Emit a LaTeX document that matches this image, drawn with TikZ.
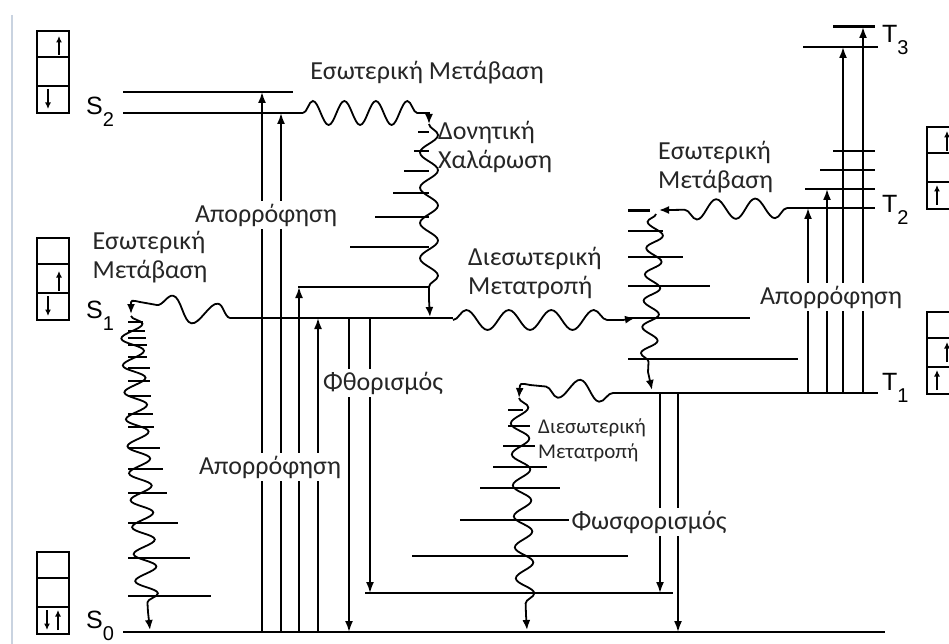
\documentclass[tikz,border=0pt]{standalone}
\usepackage{fontspec}
\setmainfont{Carlito}
\newfontfamily\statefont{Liberation Sans}
\usetikzlibrary{arrows.meta,decorations.pathmorphing}
\definecolor{edgeline}{HTML}{C9D3E0}

\newcommand{\statelbl}[2]{\statefont\fontsize{25}{25}\selectfont #1\raisebox{-0.48em}{\fontsize{20}{20}\selectfont #2}}

\begin{document}
\begin{tikzpicture}[x=1pt, y=-1pt,
    level/.style={line width=2pt},
    thicklevel/.style={line width=3pt},
    vib/.style={line width=1.7pt},
    absarr/.style={line width=1.8pt, -{Latex[length=11pt,width=8pt]}},
    wavy/.style={line width=1.8pt, -{Latex[length=10pt,width=8pt]}},
    box/.style={line width=2pt},
    spin/.style={line width=1.6pt, -{Latex[length=6.5pt,width=6pt]}},
    txt/.style={font=\fontsize{26}{29}\selectfont, text=black!85, align=left, inner sep=1pt},
    cut/.style={txt, fill=white, inner sep=3pt}
]
\useasboundingbox (0,0) rectangle (949,644);
\draw[edgeline, line width=1.5pt] (12,15) -- (12,644);

% spin boxes
\foreach \x/\y in {37/31, 37/238, 37/552, 927/127, 927/312} {
  \draw[box] (\x,\y) rectangle ++(32,82);
  \draw[box] (\x,\y+26) -- ++(32,0) (\x,\y+55) -- ++(32,0);
}
\draw[spin] (59,55) -- (59,36);
\draw[spin] (48,89) -- (48,109);
\draw[spin] (59,291) -- (59,271);
\draw[spin] (48,296) -- (48,316);
\draw[spin] (47,610) -- (47,630);
\draw[spin] (58,630) -- (58,610);
\draw[spin] (947,151) -- (947,131);
\draw[spin] (937,205) -- (937,185);
\draw[spin] (947,362) -- (947,342);
\draw[spin] (937,390) -- (937,370);

% singlet levels
\draw[level] (123,92) -- (293,92);
\draw[level] (123,113) -- (303,113);
\draw[level] (230,318) -- (453,318);
\draw[level] (123,632) -- (885,632);
\foreach \y/\l in {132/418, 151/414, 171/404, 193/393, 217/375, 247/350, 287/298}
  \draw[vib] (\l,\y) -- (429,\y);
\foreach \y/\r in {322/143, 331/145, 338/146, 345/147, 357/147, 368/150, 381/150, 396/151,
                   414/153, 427/154, 448/160, 469/163, 493/167, 523/178, 558/190, 596/211}
  \draw[vib] (128,\y) -- (\r,\y);
\foreach \y/\l/\r in {410/508/523, 426/508/530, 446/503/535, 467/493/547, 488/480/560,
                      520/460/590, 556/412/628, 593/365/673}
  \draw[vib] (\l,\y) -- (\r,\y);

% triplet levels
\draw[level] (613,393) -- (878,393);
\draw[level] (787,208) -- (875,208);
\draw[thicklevel] (628,211) -- (650,211);
\foreach \y/\r in {231/663, 257/683, 286/710, 318/750, 359/798}
  \draw[vib] (628,\y) -- (\r,\y);
\foreach \y/\l in {189/805, 170/820, 151/833}
  \draw[vib] (\l,\y) -- (875,\y);
\draw[level] (803,47) -- (878,47);
\draw[thicklevel] (833,27) -- (875,27);

% radiative transitions
\foreach \x/\y in {262/92, 281/113, 299/287, 318/318}
  \draw[absarr] (\x,632) -- (\x,\y);
\draw[absarr] (349,318) -- (349,632);
\draw[absarr] (370,318) -- (370,593);
\draw[absarr] (660,393) -- (660,593);
\draw[absarr] (678,393) -- (678,632);
\foreach \x/\y in {808/208, 827/189, 843/47, 863/27}
  \draw[absarr] (\x,393) -- (\x,\y);

% non-radiative transitions
\draw[wavy, decoration={snake, amplitude=12pt, segment length=31.5pt}]
  (303,113) decorate {-- (429,113)} -- (429,124);
\draw[wavy, decoration={snake, amplitude=9pt, segment length=35.2pt}]
  (429,124) decorate {-- (429,300)} -- (430,317);
\draw[wavy, decoration={snake, mirror, amplitude=12pt, segment length=45.7pt}]
  (230,318) decorate {-- (140,302)} .. controls (131,300) .. (131,314);
\draw[wavy, decoration={snake, amplitude=11pt, segment length=27pt}]
  (131,316) decorate {-- (148,612)} -- (150,630);
\draw[wavy, decoration={snake, amplitude=10pt, segment length=42.5pt}]
  (453,320) decorate {-- (623,320)} -- (635,318);
\draw[wavy, decoration={snake, amplitude=10pt, segment length=39pt}]
  (787,208) decorate {-- (670,210)} -- (659,210);
\draw[wavy, decoration={snake, mirror, amplitude=8pt, segment length=26.3pt}]
  (656,214) decorate {-- (648,372)} -- (652,390);
\draw[wavy, decoration={snake, amplitude=10pt, segment length=41.5pt}]
  (613,393) decorate {-- (530,385)} .. controls (520,383) .. (519,398);
\draw[wavy, decoration={snake, amplitude=9pt, segment length=31pt}]
  (519,398) decorate {-- (526,615)} -- (527,630);

% labels
\node[cut] (absA) at (266,215) {Απορρόφηση};
\node[cut] (absB) at (270,467) {Απορρόφηση};
\node[cut] (fluo) at (383,383) {Φθορισμός};
\node[cut] (absC) at (831,297) {Απορρόφηση};
\node[cut] (phos) at (649,522) {Φωσφορισμός};
\node[txt] (icTop) at (427,73) {Εσωτερική Μετάβαση};
\node[txt, anchor=west] (vibRel) at (437,147) {Δονητική\\Χαλάρωση};
\node[txt] (icLeft) at (150,257) {Εσωτερική\\Μετάβαση};
\node[txt, anchor=west] (iscMid) at (467,273) {Διεσωτερική\\Μετατροπή};
\node[txt, anchor=west] (icRight) at (657,167) {Εσωτερική\\Μετάβαση};
\node[txt, anchor=west, font=\fontsize{21}{25}\selectfont] (iscLow) at (537,440) {Διεσωτερική\\Μετατροπή};

\node[anchor=base west, inner sep=0] (S2) at (86,115) {\statelbl{S}{2}};
\node[anchor=base west, inner sep=0] (S1) at (86,318) {\statelbl{S}{1}};
\node[anchor=base west, inner sep=0] (S0) at (86,628) {\statelbl{S}{0}};
\node[anchor=base west, inner sep=0] (T1) at (882,390) {\statelbl{T}{1}};
\node[anchor=base west, inner sep=0] (T2) at (882,213) {\statelbl{T}{2}};
\node[anchor=base west, inner sep=0] (T3) at (882,43) {\statelbl{T}{3}};
\end{tikzpicture}
\end{document}
